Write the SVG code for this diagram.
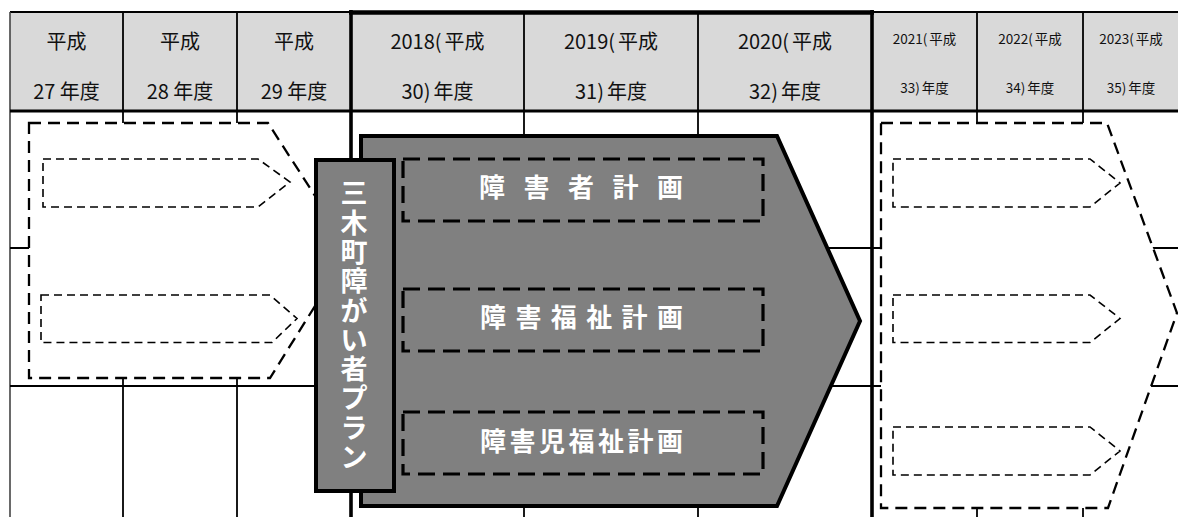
<svg xmlns="http://www.w3.org/2000/svg" width="1178" height="517" viewBox="0 0 1178 517">
<style>
.hdr{font-family:"Noto Sans CJK JP","Noto Sans CJK SC",sans-serif;font-size:20px;fill:#111;text-anchor:middle}
.hdrs{font-family:"Noto Sans CJK JP","Noto Sans CJK SC",sans-serif;font-size:13.5px;fill:#111;text-anchor:middle}
.thin{stroke:#000;stroke-width:1.8;fill:none}
.thick{stroke:#000;stroke-width:3.6;fill:none}
.outer{fill:#fff;stroke:#000;stroke-width:2.3;stroke-dasharray:12 7}
.inner{fill:#fff;stroke:#000;stroke-width:1.6;stroke-dasharray:8 5}
.gray{fill:#808080;stroke:#000;stroke-width:4;stroke-linejoin:miter}
.plan{fill:none;stroke:#000;stroke-width:3.2;stroke-dasharray:17 8}
.wt{font-family:"Noto Sans CJK JP","Noto Sans CJK SC",sans-serif;font-size:26px;font-weight:bold;fill:#fff;text-anchor:middle}
</style>
<rect x="0" y="0" width="1178" height="517" fill="#fff"/>
<g id="table">
  <rect x="10" y="12" width="1168" height="99" fill="#d9d9d9"/>
  <line class="thin" x1="10" y1="12" x2="1178" y2="12"/>
  <line x1="10" y1="12" x2="10" y2="517" stroke="#444" stroke-width="1.6"/>
  <line class="thin" x1="123" y1="12" x2="123" y2="517"/>
  <line class="thin" x1="237" y1="12" x2="237" y2="517"/>
  <line class="thin" x1="524" y1="12" x2="524" y2="517"/>
  <line class="thin" x1="698" y1="12" x2="698" y2="517"/>
  <line class="thin" x1="977" y1="12" x2="977" y2="517"/>
  <line class="thin" x1="1083" y1="12" x2="1083" y2="517"/>
  <line class="thin" x1="10" y1="248" x2="1178" y2="248"/>
  <line class="thin" x1="10" y1="386" x2="1178" y2="386"/>
  <line x1="10" y1="111" x2="1178" y2="111" stroke="#000" stroke-width="3"/>
  <line x1="349" y1="12.5" x2="874" y2="12.5" stroke="#000" stroke-width="4.5"/>
  <line class="thick" x1="351" y1="10" x2="351" y2="517"/>
  <line class="thick" x1="872" y1="10" x2="872" y2="517"/>
  <text class="hdr" x="66.5" y="48.5">平成</text>
  <text class="hdr" x="66.5" y="98.5">27 年度</text>
  <text class="hdr" x="180" y="48.5">平成</text>
  <text class="hdr" x="180" y="98.5">28 年度</text>
  <text class="hdr" x="294" y="48.5">平成</text>
  <text class="hdr" x="294" y="98.5">29 年度</text>
  <text class="hdr" x="437.5" y="48.5">2018(<tspan dx="3">平成</tspan></text>
  <text class="hdr" x="437.5" y="98.5">30)<tspan dx="3">年度</tspan></text>
  <text class="hdr" x="611" y="48.5">2019(<tspan dx="3">平成</tspan></text>
  <text class="hdr" x="611" y="98.5">31)<tspan dx="3">年度</tspan></text>
  <text class="hdr" x="785" y="48.5">2020(<tspan dx="3">平成</tspan></text>
  <text class="hdr" x="785" y="98.5">32)<tspan dx="3">年度</tspan></text>
  <text class="hdrs" x="924.5" y="44">2021(<tspan dx="2">平成</tspan></text>
  <text class="hdrs" x="924.5" y="92.5">33)<tspan dx="2">年度</tspan></text>
  <text class="hdrs" x="1030" y="44">2022(<tspan dx="2">平成</tspan></text>
  <text class="hdrs" x="1030" y="92.5">34)<tspan dx="2">年度</tspan></text>
  <text class="hdrs" x="1131" y="44">2023(<tspan dx="2">平成</tspan></text>
  <text class="hdrs" x="1131" y="92.5">35)<tspan dx="2">年度</tspan></text>
</g>
<g id="connectors"/>
<g id="left-outer"><path class="outer" d="M29,123 H268 L350,250 L270,378 H29 Z"/></g>
<g id="left-inner-1"><path class="inner" d="M43,159 H258 L290,182 L258,207 H43 Z"/></g>
<g id="left-inner-2"><path class="inner" d="M41,295 H270 L297,318.5 L272,342.5 H41 Z"/></g>
<g id="right-outer"><path class="outer" d="M881,123 H1107 L1177,313 L1108,508 H881 Z"/></g>
<g id="right-inner-1"><path class="inner" d="M893,159 H1090 L1120,183 L1090,207 H893 Z"/></g>
<g id="right-inner-2"><path class="inner" d="M893,295 H1090 L1120,318.5 L1090,342.5 H893 Z"/></g>
<g id="right-inner-3"><path class="inner" d="M893,427 H1090 L1120,451 L1090,475 H893 Z"/></g>
<g id="main-arrow"><path class="gray" d="M361,136 H777 L860,321 L777,506 H361 Z"/></g>
<g id="plan-1">
  <rect class="plan" x="403" y="159" width="360" height="62"/>
  <text class="wt" x="492 514 536.5 559 581 603 625.5 648 670" y="197">障 害 者 計 画</text>
</g>
<g id="plan-2">
  <rect class="plan" x="403" y="289" width="360" height="62"/>
  <text class="wt" x="493 511 528.4 546 563.8 581 599.2 617 634.6 652 670" y="326.5">障 害 福 祉 計 画</text>
</g>
<g id="plan-3">
  <rect class="plan" x="403" y="412" width="360" height="62"/>
  <text class="wt" x="493 522.5 552 581.5 611 640.5 670" y="450.5">障害児福祉計画</text>
</g>
<g id="miki-plan">
  <rect class="gray" x="316" y="160" width="78" height="331"/>
  <text class="wt" style="font-size:27px" x="354 354 354 354 354 354 354 354 354 354" y="203.3 232.6 261.9 291.2 320.5 349.8 379.1 408.4 437.7 467">三木町障がい者プラン</text>
</g>
</svg>
